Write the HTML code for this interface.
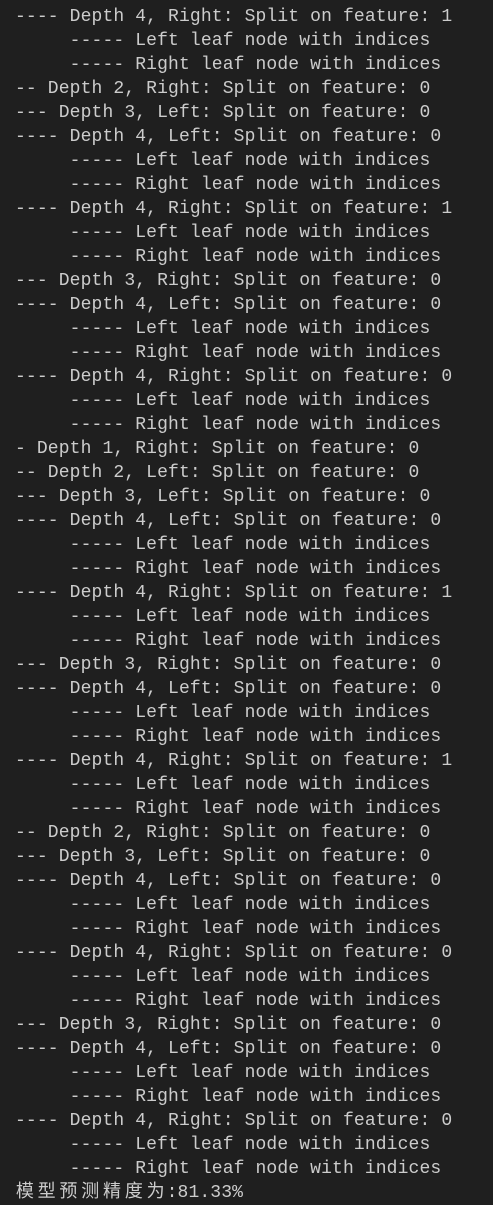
<!DOCTYPE html>
<html><head><meta charset="utf-8"><style>
html,body{margin:0;padding:0;background:#1f1f1f;width:493px;height:1201px;overflow:hidden}
pre{position:absolute;left:15px;top:-19px;margin:0;font-family:"Liberation Mono","Noto Sans CJK SC",monospace;font-size:18px;line-height:24px;letter-spacing:0.13px;color:#cccccc;white-space:pre}
.c{display:inline-block;width:21.8px;text-align:center}
</style></head><body>
<pre>               -- -- -
---- Depth 4, Right: Split on feature: 1
     ----- Left leaf node with indices
     ----- Right leaf node with indices
-- Depth 2, Right: Split on feature: 0
--- Depth 3, Left: Split on feature: 0
---- Depth 4, Left: Split on feature: 0
     ----- Left leaf node with indices
     ----- Right leaf node with indices
---- Depth 4, Right: Split on feature: 1
     ----- Left leaf node with indices
     ----- Right leaf node with indices
--- Depth 3, Right: Split on feature: 0
---- Depth 4, Left: Split on feature: 0
     ----- Left leaf node with indices
     ----- Right leaf node with indices
---- Depth 4, Right: Split on feature: 0
     ----- Left leaf node with indices
     ----- Right leaf node with indices
- Depth 1, Right: Split on feature: 0
-- Depth 2, Left: Split on feature: 0
--- Depth 3, Left: Split on feature: 0
---- Depth 4, Left: Split on feature: 0
     ----- Left leaf node with indices
     ----- Right leaf node with indices
---- Depth 4, Right: Split on feature: 1
     ----- Left leaf node with indices
     ----- Right leaf node with indices
--- Depth 3, Right: Split on feature: 0
---- Depth 4, Left: Split on feature: 0
     ----- Left leaf node with indices
     ----- Right leaf node with indices
---- Depth 4, Right: Split on feature: 1
     ----- Left leaf node with indices
     ----- Right leaf node with indices
-- Depth 2, Right: Split on feature: 0
--- Depth 3, Left: Split on feature: 0
---- Depth 4, Left: Split on feature: 0
     ----- Left leaf node with indices
     ----- Right leaf node with indices
---- Depth 4, Right: Split on feature: 0
     ----- Left leaf node with indices
     ----- Right leaf node with indices
--- Depth 3, Right: Split on feature: 0
---- Depth 4, Left: Split on feature: 0
     ----- Left leaf node with indices
     ----- Right leaf node with indices
---- Depth 4, Right: Split on feature: 0
     ----- Left leaf node with indices
     ----- Right leaf node with indices
<span style="margin-left:-1px"><span class="c">模</span><span class="c">型</span><span class="c">预</span><span class="c">测</span><span class="c">精</span><span class="c">度</span><span class="c">为</span>:81.33%</span></pre>
</body></html>
